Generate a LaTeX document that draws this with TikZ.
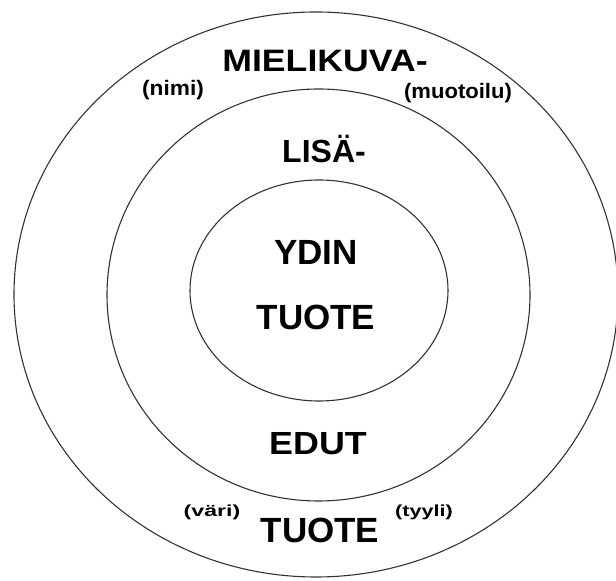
\documentclass[tikz,border=0pt]{standalone}
\usepackage{fontspec}
\setmainfont{Liberation Sans}
\begin{document}
\begin{tikzpicture}[x=1pt,y=1pt,
  ring/.style={draw=black!80,line width=1.1pt},
  lbl/.style={inner sep=0pt,anchor=base,font=\bfseries},
  sml/.style={inner sep=0pt,font=\bfseries}]
\useasboundingbox (0,0) rectangle (616,581);
\fill[white] (0,0) rectangle (616,581);
\draw[ring] (316,286.5) ellipse [x radius=302, y radius=282.5];
\draw[ring] (318.5,286) ellipse [x radius=211.5, y radius=206];
\draw[ring] (319,290.5) ellipse [x radius=129, y radius=110.5];
\node[lbl] (mieli) at (325,509) {\fontsize{31}{31}\selectfont\scalebox{1.15}[1]{MIELIKUVA-}};
\node[sml] (nimi) at (173,491) {\fontsize{21}{21}\selectfont\scalebox{1.08}[1]{(nimi)}};
\node[sml] (muot) at (458,488) {\fontsize{21}{21}\selectfont\scalebox{1.05}[1]{(muotoilu)}};
\node[lbl] (lisa) at (324,418) {\fontsize{32}{32}\selectfont LISÄ-};
\node[lbl] (ydin) at (316,316) {\fontsize{35}{35}\selectfont YDIN};
\node[lbl] (tuote1) at (316,251) {\fontsize{35}{35}\selectfont TUOTE};
\node[lbl] (edut) at (318,126) {\fontsize{32}{32}\selectfont\scalebox{1.12}[1]{EDUT}};
\node[lbl] (tuote2) at (320,38) {\fontsize{35}{35}\selectfont TUOTE};
\node[sml] (vari) at (212,69) {\fontsize{16}{16}\selectfont\scalebox{1.45}[1]{(väri)}};
\node[sml] (tyyli) at (424,69) {\fontsize{16}{16}\selectfont\scalebox{1.35}[1]{(tyyli)}};
\end{tikzpicture}
\end{document}
